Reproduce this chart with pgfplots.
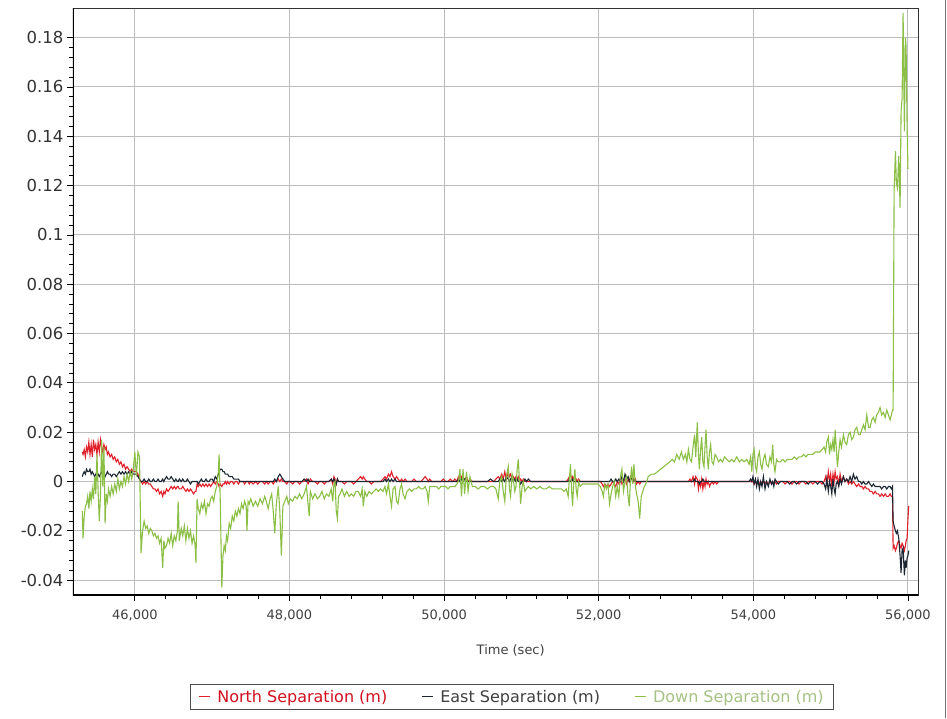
\documentclass[border=0pt]{standalone}
\usepackage{fontspec}
\setmainfont{DejaVu Sans}
\usepackage{pgfplots}
\usepackage{pgfplotstable}
\pgfplotsset{compat=1.18}
\definecolor{cN}{HTML}{E0202A}
\definecolor{cE}{HTML}{1C2633}
\definecolor{cD}{HTML}{8CBF45}
\definecolor{lN}{HTML}{D0101E}
\definecolor{lE}{HTML}{404040}
\definecolor{lD}{HTML}{A6C284}
\definecolor{gridc}{HTML}{BDBDBD}
\pgfplotstableread{
t n e d
45320 0.012 0.002 -0.012
45330 0.011 0.003 -0.023
45345 0.013 0.004 -0.014
45360 0.010 0.003 -0.010
45375 0.014 0.005 -0.009
45390 0.012 0.004 -0.006
45405 0.016 0.004 -0.011
45420 0.011 0.005 -0.004
45435 0.015 0.003 -0.008
45450 0.010 0.004 -0.003
45465 0.017 0.003 -0.007
45480 0.013 0.002 0.002
45495 0.015 0.003 -0.005
45510 0.011 0.004 0.011
45525 0.016 0.003 -0.004
45540 0.012 0.002 -0.016
45555 0.017 0.003 -0.006
45570 0.014 0.004 0.017
45585 0.012 0.003 -0.002
45600 0.015 0.003 0.014
45615 0.013 0.002 -0.017
45630 0.014 0.003 -0.005
45645 0.011 0.004 -0.008
45660 0.012 0.003 -0.003
45680 0.010 0.003 -0.006
45700 0.011 0.002 -0.002
45720 0.009 0.003 -0.005
45740 0.010 0.003 -0.001
45760 0.008 0.002 -0.004
45780 0.009 0.003 0.001
45800 0.007 0.004 -0.003
45820 0.008 0.003 0.000
45840 0.006 0.004 -0.002
45860 0.007 0.003 0.002
45880 0.005 0.004 -0.001
45900 0.006 0.003 0.003
45920 0.005 0.004 0.000
45940 0.004 0.003 0.004
45960 0.005 0.004 0.001
45980 0.004 0.003 0.005
46000 0.004 0.003 0.012
46020 0.004 0.003 0.002
46040 0.003 0.002 0.012
46060 0.001 0.001 0.010
46080 0.000 0.000 -0.029
46100 -0.001 0.000 -0.020
46120 0.000 0.001 -0.016
46140 -0.001 0.000 -0.019
46160 0.000 0.000 -0.018
46180 -0.001 0.001 -0.021
46200 -0.001 0.000 -0.019
46220 -0.002 0.000 -0.020
46240 -0.003 0.001 -0.022
46260 -0.003 0.000 -0.021
46280 -0.004 0.000 -0.023
46300 -0.003 0.001 -0.022
46320 -0.005 0.000 -0.025
46340 -0.004 0.000 -0.023
46360 -0.006 0.001 -0.035
46375 -0.004 0.000 -0.024
46390 -0.005 0.001 -0.027
46410 -0.003 0.002 -0.026
46430 -0.004 0.001 -0.023
46450 -0.003 0.001 -0.025
46470 -0.002 0.002 -0.021
46490 -0.003 0.001 -0.026
46510 -0.002 0.000 -0.022
46530 -0.003 0.001 -0.024
46550 -0.002 0.000 -0.020
46560 -0.002 0.000 -0.008
46575 -0.003 0.001 -0.024
46600 -0.003 0.000 -0.019
46620 -0.002 0.001 -0.022
46640 -0.003 0.000 -0.018
46660 -0.004 0.000 -0.024
46680 -0.003 0.001 -0.019
46700 -0.004 0.000 -0.023
46720 -0.003 -0.001 -0.020
46740 -0.004 0.000 -0.025
46760 -0.005 0.000 -0.022
46780 -0.004 0.000 -0.026
46790 -0.004 0.000 -0.033
46805 -0.001 0.000 -0.007
46820 -0.002 -0.001 -0.011
46840 -0.001 0.000 -0.013
46860 -0.002 0.001 -0.009
46880 -0.001 0.000 -0.011
46900 -0.002 0.000 -0.008
46920 -0.001 0.001 -0.013
46940 -0.002 0.000 -0.009
46960 -0.001 0.000 -0.010
46980 -0.002 0.001 -0.007
47000 -0.001 0.001 -0.006
47020 0.000 0.000 -0.008
47040 -0.001 0.002 -0.004
47060 0.000 0.001 -0.002
47080 -0.001 0.003 0.004
47090 -0.002 0.004 0.011
47105 -0.001 0.005 -0.008
47125 -0.002 0.005 -0.043
47140 -0.001 0.004 -0.030
47155 -0.001 0.004 -0.026
47170 0.000 0.003 -0.028
47185 -0.001 0.003 -0.022
47200 0.000 0.003 -0.024
47220 -0.001 0.002 -0.017
47240 0.000 0.002 -0.019
47260 0.000 0.002 -0.014
47280 -0.001 0.001 -0.016
47300 0.000 0.001 -0.012
47320 0.000 0.001 -0.014
47340 -0.001 0.001 -0.011
47360 0.000 0.000 -0.013
47380 0.000 0.000 -0.009
47400 0.000 0.000 -0.011
47420 -0.001 0.000 -0.008
47440 0.000 0.000 -0.010
47450 0.000 0.000 -0.020
47465 0.000 0.000 -0.008
47480 -0.001 0.000 -0.009
47500 0.000 0.000 -0.007
47530 -0.001 0.000 -0.010
47560 0.000 0.000 -0.008
47590 -0.001 0.000 -0.010
47620 0.000 0.000 -0.007
47650 0.000 0.000 -0.009
47680 -0.001 0.000 -0.006
47700 0.000 0.000 -0.008
47725 -0.001 0.000 -0.011
47750 0.000 0.000 -0.007
47770 0.000 0.000 -0.005
47790 -0.001 0.000 -0.012
47810 0.000 0.001 -0.021
47830 0.000 0.000 -0.009
47855 0.001 0.002 -0.002
47875 0.000 0.003 -0.012
47895 0.001 0.002 -0.030
47915 0.000 0.001 -0.010
47940 0.000 0.000 -0.008
47965 -0.001 0.000 -0.006
47985 0.000 0.000 -0.009
48010 0.000 0.000 -0.007
48040 -0.001 0.000 -0.008
48070 0.000 0.000 -0.006
48100 0.000 0.000 -0.007
48130 -0.001 0.000 -0.005
48160 0.000 0.000 -0.007
48190 0.000 0.001 -0.005
48220 0.001 0.000 -0.002
48240 -0.001 0.001 -0.009
48255 0.000 0.000 -0.014
48270 0.001 0.000 -0.004
48300 0.000 0.000 -0.007
48330 0.000 0.000 -0.005
48360 -0.001 0.000 -0.007
48390 0.000 0.000 -0.006
48420 0.000 0.000 -0.004
48450 -0.001 0.000 -0.007
48480 0.000 0.000 -0.005
48510 0.000 0.000 -0.006
48540 0.001 0.001 -0.003
48560 -0.001 0.000 -0.008
48575 0.002 0.001 -0.001
48590 0.001 0.000 0.000
48605 -0.001 -0.001 -0.012
48620 0.001 0.001 -0.015
48635 0.000 0.000 -0.006
48655 0.000 0.000 -0.005
48680 0.000 0.000 -0.003
48710 -0.001 0.000 -0.006
48740 0.000 0.000 -0.004
48770 0.000 0.000 -0.006
48800 0.000 0.000 -0.005
48830 -0.001 0.000 -0.006
48860 0.000 0.000 -0.004
48890 0.001 0.000 -0.004
48920 0.002 0.000 -0.006
48940 0.001 0.000 -0.003
48955 0.002 0.000 -0.010
48975 0.001 0.000 -0.004
49000 0.000 0.000 -0.006
49030 0.000 0.000 -0.004
49060 -0.001 0.000 -0.005
49090 0.000 0.000 -0.004
49120 0.000 0.000 -0.003
49150 0.000 0.000 -0.004
49180 0.000 0.000 -0.003
49210 0.001 0.000 -0.004
49235 0.002 0.001 -0.002
49255 0.001 0.000 -0.005
49280 0.003 0.001 -0.001
49300 0.002 0.000 -0.006
49320 0.004 0.001 -0.010
49340 0.002 0.000 -0.003
49365 0.001 0.001 -0.002
49385 0.002 0.000 -0.008
49405 0.001 0.000 -0.009
49430 0.000 0.000 -0.003
49450 0.001 0.000 -0.001
49470 0.000 0.000 -0.005
49495 0.001 0.000 -0.007
49520 0.000 0.000 -0.004
49550 0.000 0.000 -0.003
49580 0.000 0.000 -0.004
49610 0.001 0.000 -0.003
49640 0.000 0.000 -0.003
49670 0.000 0.000 -0.002
49700 0.000 0.000 -0.003
49730 0.001 0.000 -0.003
49755 0.002 0.000 -0.002
49780 0.001 0.000 -0.004
49795 0.000 0.000 -0.008
49815 0.001 0.000 -0.002
49840 0.000 0.000 -0.002
49870 0.000 0.000 -0.002
49900 0.000 0.000 -0.002
49930 0.000 0.000 -0.003
49960 0.000 0.000 -0.002
49990 0.001 0.000 -0.002
50020 0.000 0.000 -0.002
50050 0.000 0.000 -0.003
50080 0.001 0.000 -0.002
50110 0.000 0.000 -0.002
50140 0.001 0.000 -0.002
50165 0.000 0.000 -0.001
50185 0.002 0.001 0.000
50205 0.001 0.000 0.005
50225 0.002 0.001 -0.006
50245 0.000 0.000 0.005
50265 0.001 0.001 -0.005
50290 0.002 0.000 0.004
50310 0.000 0.000 -0.004
50335 0.001 0.000 0.002
50365 0.000 0.000 -0.002
50400 0.000 0.000 -0.002
50440 0.000 0.000 -0.003
50480 0.000 0.000 -0.002
50520 0.000 0.000 -0.002
50560 0.000 0.000 -0.003
50600 0.000 0.001 -0.002
50640 0.000 0.000 -0.002
50670 0.001 0.000 -0.003
50700 0.002 0.000 -0.007
50720 0.001 0.001 0.000
50745 0.003 0.000 0.002
50765 0.001 0.001 -0.004
50785 0.004 0.000 -0.008
50805 0.001 0.002 0.002
50830 0.004 0.001 0.006
50845 0.002 0.000 -0.003
50860 0.003 0.001 -0.006
50880 0.001 0.002 0.003
50895 0.002 0.000 0.001
50915 0.001 0.001 -0.004
50930 0.002 0.000 -0.002
50945 0.001 0.001 0.005
50960 0.002 0.000 0.009
50975 0.000 0.000 0.000
50990 0.001 -0.001 -0.009
51010 0.000 0.000 -0.002
51025 0.001 0.000 0.000
51045 0.000 0.001 -0.004
51065 0.000 0.000 -0.003
51090 0.000 0.001 -0.002
51120 0.000 0.000 -0.003
51160 0.000 0.000 -0.002
51200 0.000 0.000 -0.003
51240 0.000 0.000 -0.002
51280 0.000 0.000 -0.003
51320 0.000 0.000 -0.003
51360 0.000 0.000 -0.002
51400 0.000 0.000 -0.003
51440 0.000 0.000 -0.003
51480 0.000 0.000 -0.003
51520 0.000 0.000 -0.003
51550 0.000 0.000 -0.004
51580 0.000 0.000 -0.003
51605 0.001 0.000 -0.006
51620 0.002 0.001 0.001
51635 0.003 0.000 0.007
51650 0.001 0.000 -0.004
51662 0.002 0.001 -0.010
51678 0.001 0.000 0.000
51692 0.002 0.000 0.005
51708 0.001 0.000 -0.003
51722 0.000 0.000 -0.006
51740 0.001 0.000 0.000
51760 0.000 0.000 -0.002
51790 0.000 0.000 -0.001
51830 0.000 0.000 -0.001
51870 0.000 0.000 -0.001
51910 0.000 0.000 -0.001
51950 0.000 0.000 -0.001
51990 0.000 0.000 -0.001
52020 0.000 0.000 -0.002
52045 -0.001 0.000 -0.004
52060 -0.002 0.000 -0.006
52080 -0.001 0.000 -0.001
52100 -0.002 0.000 -0.003
52120 -0.001 0.000 -0.001
52140 -0.002 0.000 -0.009
52160 -0.001 0.001 -0.005
52180 0.000 0.000 -0.002
52200 -0.001 0.000 0.000
52220 -0.002 0.001 -0.006
52240 0.000 0.000 -0.002
52260 -0.001 0.001 -0.006
52280 0.001 0.000 0.002
52300 -0.001 0.002 0.005
52320 0.000 0.000 -0.004
52340 0.001 0.003 0.000
52360 -0.001 0.001 0.002
52380 0.001 0.002 -0.006
52395 0.000 0.000 -0.010
52410 0.002 0.001 0.000
52425 0.001 0.002 0.006
52440 0.002 0.000 -0.001
52455 0.000 0.001 0.007
52475 0.001 0.000 -0.002
52490 -0.001 0.000 -0.005
52510 0.000 0.000 -0.008
52530 -0.001 0.000 -0.015
52550 0.000 0.000 -0.006
52570 0.000 0.000 -0.004
52590 0.000 0.000 -0.002
52610 0.000 0.000 -0.001
52640 0.000 0.000 0.002
52680 0.000 0.000 0.003
52720 0.000 0.000 0.003
52760 0.000 0.000 0.004
52800 0.000 0.000 0.005
52840 0.000 0.000 0.006
52880 0.000 0.000 0.007
52920 0.000 0.000 0.008
52950 0.000 0.000 0.009
52980 0.000 0.000 0.008
53010 0.000 0.000 0.011
53040 0.000 0.000 0.009
53070 0.000 0.000 0.012
53095 0.000 0.000 0.009
53120 0.000 0.000 0.011
53140 0.000 0.000 0.008
53160 0.000 0.000 0.013
53180 0.001 0.000 0.009
53200 0.000 0.000 0.008
53220 0.002 0.000 0.014
53240 -0.001 0.001 0.019
53255 0.002 0.000 0.010
53275 0.001 0.000 0.024
53290 -0.003 0.000 0.011
53302 0.000 -0.001 0.005
53318 -0.002 0.000 0.013
53332 0.001 0.000 0.018
53347 -0.003 0.001 0.008
53362 0.000 0.000 0.006
53375 -0.002 0.000 0.014
53388 0.001 0.000 0.021
53403 -0.001 0.000 0.010
53418 0.000 0.000 0.005
53433 -0.002 0.000 0.012
53448 -0.001 0.000 0.015
53465 0.000 0.000 0.008
53483 -0.001 0.000 0.007
53505 0.000 0.000 0.011
53526 -0.001 0.000 0.010
53550 0.000 0.000 0.008
53575 0.000 0.000 0.009
53600 0.000 0.000 0.008
53630 0.000 0.000 0.010
53655 0.000 0.000 0.009
53690 0.000 0.000 0.008
53720 0.000 0.000 0.009
53750 0.000 0.000 0.008
53785 0.000 0.000 0.010
53820 0.000 0.000 0.008
53850 0.000 0.000 0.009
53880 0.000 0.000 0.008
53915 0.000 0.000 0.009
53945 0.000 0.000 0.007
53965 0.000 0.001 0.010
53980 0.000 0.000 0.004
53995 0.000 0.002 0.011
54010 -0.001 -0.001 0.013
54028 0.000 0.001 0.006
54043 -0.001 -0.002 0.004
54060 0.000 0.001 0.010
54078 -0.001 -0.003 0.012
54095 0.000 0.000 0.007
54112 -0.001 -0.002 0.005
54130 0.000 0.002 0.009
54151 -0.001 -0.003 0.011
54170 0.000 0.000 0.007
54194 -0.001 -0.002 0.006
54215 0.000 0.001 0.010
54235 -0.001 -0.001 0.008
54250 0.000 0.000 0.015
54265 -0.001 -0.002 0.007
54280 0.000 0.001 0.004
54300 -0.001 0.000 0.009
54323 0.000 -0.001 0.008
54350 0.000 0.000 0.008
54380 0.000 0.000 0.009
54410 -0.001 0.000 0.008
54440 0.000 0.000 0.009
54470 0.000 -0.001 0.009
54500 -0.001 0.000 0.009
54530 0.000 0.000 0.010
54560 0.000 -0.001 0.009
54590 -0.001 0.000 0.010
54620 0.000 0.000 0.010
54650 0.000 0.000 0.011
54680 -0.001 0.000 0.010
54710 0.000 -0.001 0.011
54740 0.000 0.000 0.011
54770 -0.001 0.000 0.011
54800 0.000 0.000 0.012
54830 0.000 -0.001 0.012
54860 0.000 0.000 0.012
54890 -0.001 0.000 0.013
54915 0.000 -0.001 0.014
54935 0.002 -0.003 0.012
54950 -0.001 0.001 0.016
54970 0.004 -0.004 0.018
54985 0.000 0.000 0.011
55000 0.003 -0.002 0.015
55015 -0.002 -0.005 0.013
55030 0.003 0.001 0.017
55045 0.000 -0.003 0.012
55058 0.004 -0.005 0.021
55072 0.001 -0.001 0.014
55088 0.002 0.000 0.006
55105 -0.001 -0.002 0.012
55122 0.003 0.001 0.017
55140 0.000 -0.001 0.014
55165 0.002 0.002 0.019
55185 0.000 0.000 0.016
55208 0.001 0.001 0.015
55230 -0.001 0.000 0.019
55251 0.000 0.002 0.020
55272 -0.001 0.000 0.017
55294 0.000 0.003 0.018
55315 -0.001 0.001 0.021
55337 -0.002 0.002 0.022
55360 -0.001 0.000 0.019
55381 -0.002 0.000 0.019
55403 -0.002 -0.001 0.021
55424 -0.003 0.000 0.023
55445 -0.002 -0.001 0.021
55467 -0.003 -0.001 0.027
55490 -0.003 0.000 0.022
55510 -0.004 -0.001 0.022
55532 -0.004 -0.002 0.025
55553 -0.005 -0.001 0.026
55575 -0.004 -0.002 0.024
55596 -0.005 -0.002 0.027
55618 -0.005 -0.002 0.028
55639 -0.006 -0.002 0.030
55660 -0.005 -0.003 0.027
55683 -0.006 -0.002 0.028
55705 -0.005 -0.002 0.026
55726 -0.006 -0.003 0.029
55748 -0.006 -0.002 0.027
55769 -0.005 -0.002 0.025
55785 -0.006 -0.003 0.027
55800 -0.006 -0.002 0.029
55808 -0.027 -0.016 0.029
55821 -0.026 -0.018 0.118
55838 -0.028 -0.020 0.134
55850 -0.027 -0.021 0.121
55864 -0.025 -0.020 0.119
55881 -0.024 -0.023 0.132
55898 -0.026 -0.030 0.111
55911 -0.027 -0.037 0.150
55924 -0.025 -0.028 0.155
55937 -0.026 -0.027 0.190
55954 -0.028 -0.038 0.142
55967 -0.026 -0.032 0.180
55976 -0.024 -0.035 0.176
55989 -0.023 -0.031 0.144
56000 -0.015 -0.030 0.127
56010 -0.010 -0.028 0.127
}\data
\begin{document}
\begin{tikzpicture}[x=1pt,y=1pt]
\useasboundingbox (0,0) rectangle (947,718);
\draw[black!55, line width=1pt] (945,0) -- (945,718);
\begin{axis}[
  at={(73pt,123pt)}, anchor=south west,
  width=845pt, height=587pt, scale only axis,
  xmin=45200, xmax=56130, ymin=-0.046, ymax=0.192,
  scaled x ticks=false, scaled y ticks=false,
  xtick={46000,48000,50000,52000,54000,56000},
  xticklabels={{46,000},{48,000},{50,000},{52,000},{54,000},{56,000}},
  ytick={-0.04,-0.02,0,0.02,0.04,0.06,0.08,0.1,0.12,0.14,0.16,0.18},
  yticklabels={-0.04,-0.02,0,0.02,0.04,0.06,0.08,0.1,0.12,0.14,0.16,0.18},
  minor x tick num=4, minor y tick num=4,
  tick pos=left, tick align=outside,
  major tick length=6pt, minor tick length=4pt,
  every tick/.style={black, line width=0.8pt},
  grid=major,
  major grid style={gridc, line width=1pt},
  axis line style={black!80, line width=0.8pt},
  xticklabel style={font=\fontsize{13}{15}\selectfont, text=black!75, yshift=-5pt},
  yticklabel style={font=\fontsize{16.5}{18}\selectfont, text=black!80},
  xlabel={Time (sec)},
  xlabel style={font=\fontsize{13}{15}\selectfont, text=black!75, at={(axis description cs:0.518,-0.094)}, anchor=center},
  legend columns=3,
  legend image code/.code={\draw[#1, line width=1pt] (0pt,0pt) -- (11pt,0pt);},
  legend style={at={(axis description cs:0.5195,-0.151)}, anchor=north,
    draw=black!70, line width=1pt, font=\fontsize{16}{18}\selectfont,
    inner xsep=8pt, inner ysep=4pt,
    /tikz/every odd column/.append style={column sep=5pt},
    /tikz/every even column/.append style={column sep=32pt}},
]
\addplot[cN, line width=1.1pt] table[x=t, y=n] {\data};
\addlegendentry{\textcolor{lN}{North Separation (m)}}
\addplot[cE, line width=1.1pt] table[x=t, y=e] {\data};
\addlegendentry{\textcolor{lE}{East Separation (m)}}
\addplot[cD, line width=1.1pt] table[x=t, y=d] {\data};
\addlegendentry{\textcolor{lD}{Down Separation (m)}}
\draw[black, line width=2.5pt] (rel axis cs:0,1) -- (rel axis cs:0,0) -- (rel axis cs:1,0);
\end{axis}
\end{tikzpicture}
\end{document}
